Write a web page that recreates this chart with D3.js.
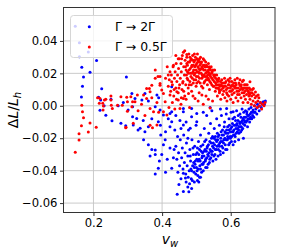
<!DOCTYPE html>
<html><head><meta charset="utf-8">
<script src="https://cdn.jsdelivr.net/npm/d3@7"></script>
<style>html,body{margin:0;padding:0;background:#fff;} svg{display:block;font-family:"DejaVu Sans",sans-serif;}</style>
</head><body><svg id="c" width="283" height="252"></svg>
<script>
const xTicks = [0.2, 0.4, 0.6];
const yTicks = [-0.06, -0.04, -0.02, 0.00, 0.02, 0.04];
const seriesLabels = ["Γ → 2Γ", "Γ → 0.5Γ"];
const seriesColors = ["#0000ff", "#ff0000"];

// Γ → 2Γ (blue)
const blue2G = [
[0.147,0.049],[0.159,0.0388],[0.185,0.0332],[0.159,0.0302],[0.209,0.0279],[0.166,0.0238],[0.190,0.0207],[0.171,0.0177],[0.168,0.0121],[0.165,0.0054],
[0.296,0.0177],[0.224,0.0105],[0.215,0.0052],[0.251,0.0041],[0.231,0.000],[0.219,-0.0028],[0.236,-0.0059],[0.254,-0.0092],[0.272,0.000],[0.287,0.0021],[0.221,0.0035],[0.280,-0.0108],[0.294,-0.0123],[0.314,-0.0068],[0.301,-0.0026],[0.314,-0.0006],
[0.312,0.0076],[0.321,0.0045],[0.341,0.0035],[0.350,0.0076],[0.385,0.0066],[0.390,0.0050],[0.428,0.0117],[0.423,-0.0047],[0.404,-0.0057],[0.389,-0.0098],[0.428,-0.0098],[0.462,-0.0037],[0.486,-0.0068],[0.501,-0.0047],[0.501,-0.0098],[0.462,-0.0119],[0.326,-0.0078],[0.316,-0.0119],[0.336,-0.0139],[0.360,-0.0129],[0.423,-0.0130],[0.482,-0.0139],
[0.380,-0.0006],[0.394,-0.0026],[0.428,-0.0037],[0.462,-0.0016],[0.486,-0.0016],[0.540,-0.0010],[0.520,-0.0040],
[0.330,-0.0150],[0.350,-0.0160],[0.346,-0.0210],[0.360,-0.0240],[0.370,-0.0270],[0.365,-0.0310],[0.380,-0.0273],[0.389,-0.0385],[0.399,-0.0300],[0.404,-0.0240],[0.409,-0.0210],[0.423,-0.0260],[0.433,-0.0320],[0.428,-0.0385],[0.462,-0.0416],[0.380,-0.0420],
[0.444,-0.0545],[0.462,-0.0529],[0.449,-0.0486],[0.470,-0.0470],[0.475,-0.0500],[0.468,-0.0445],
[0.440,-0.025],[0.443,-0.033],[0.446,-0.041],[0.448,-0.029],[0.451,-0.037],[0.453,-0.021],[0.455,-0.045],[0.457,-0.032],[0.459,-0.026],[0.461,-0.039],[0.463,-0.018],[0.465,-0.035],[0.467,-0.029],[0.469,-0.042],[0.471,-0.023],[0.473,-0.037],[0.475,-0.031],[0.477,-0.015],[0.479,-0.040],[0.481,-0.027],[0.483,-0.034],[0.485,-0.045],[0.487,-0.021],[0.489,-0.037],[0.491,-0.030],[0.493,-0.041],[0.495,-0.025],[0.497,-0.034],[0.499,-0.012],[0.500,-0.038],[0.502,-0.029],[0.504,-0.043],[0.506,-0.022],[0.508,-0.033],[0.510,-0.037],[0.512,-0.018],[0.514,-0.028],[0.515,-0.041],[0.517,-0.031],[0.519,-0.024],[0.521,-0.035],[0.523,-0.014],[0.525,-0.027],[0.527,-0.038],[0.528,-0.021],[0.530,-0.032],[0.532,-0.025],[0.534,-0.036],[0.536,-0.017],[0.537,-0.029],[0.539,-0.033],[0.541,-0.011],[0.543,-0.023],[0.545,-0.030],[0.547,-0.019],[0.548,-0.034],[0.550,-0.026],[0.552,-0.014],[0.554,-0.030],[0.556,-0.021],[0.558,-0.027],[0.559,-0.008],[0.561,-0.017],[0.563,-0.031],[0.565,-0.024],[0.567,-0.012],[0.569,-0.028],[0.571,-0.020],[0.573,-0.006],[0.574,-0.025],[0.576,-0.015],[0.578,-0.029],[0.580,-0.021],[0.582,-0.010],[0.584,-0.024],[0.586,-0.017],[0.587,-0.005],[0.589,-0.027],[0.591,-0.013],[0.593,-0.020],[0.595,-0.008],[0.597,-0.023],[0.599,-0.016],[0.601,-0.004],[0.603,-0.019],[0.605,-0.011],[0.607,-0.024],[0.609,-0.015],[0.611,-0.007],[0.613,-0.019],[0.615,-0.012],[0.617,-0.003],[0.619,-0.016],[0.621,-0.009],[0.623,-0.021],[0.625,-0.013],[0.627,-0.005],[0.629,-0.016],[0.631,-0.010],[0.633,-0.002],[0.635,-0.014],[0.637,-0.020],[0.639,-0.007],[0.641,-0.012],[0.643,-0.003],[0.645,-0.010],[0.647,-0.005],[0.649,-0.013],[0.651,-0.008],[0.653,-0.002],[0.655,-0.010],[0.657,-0.005],[0.659,-0.001],[0.661,-0.008],[0.663,-0.004],[0.665,-0.0026],[0.667,-0.007],[0.669,0.000],[0.671,-0.004],[0.673,-0.002],[0.676,-0.005],[0.678,0.001],[0.680,-0.0006],[0.683,-0.003],[0.686,0.002],[0.689,-0.001],[0.692,0.001],[0.695,0.0025],[0.698,0.001],[0.701,0.003],
[0.496,-0.036],[0.498,-0.042],[0.501,-0.033],[0.503,-0.026],[0.505,-0.039],[0.507,-0.030],[0.509,-0.044],[0.511,-0.034],[0.513,-0.025],[0.516,-0.036],[0.518,-0.029],[0.520,-0.040],[0.522,-0.031],[0.524,-0.022],[0.526,-0.034],[0.529,-0.028],[0.531,-0.038],[0.533,-0.030],[0.535,-0.024],[0.538,-0.035],[0.540,-0.027],[0.542,-0.032],[0.544,-0.020],[0.546,-0.028],[0.549,-0.023],[0.551,-0.031],[0.553,-0.024],[0.555,-0.019],[0.557,-0.033],[0.560,-0.025],[0.562,-0.021],[0.564,-0.027],[0.566,-0.018],[0.568,-0.023],[0.570,-0.030],[0.572,-0.016],[0.575,-0.022],[0.577,-0.026],[0.579,-0.018],[0.581,-0.013],[0.583,-0.020],[0.585,-0.027],[0.588,-0.015],[0.590,-0.021],[0.592,-0.017],[0.594,-0.024],[0.596,-0.012],[0.598,-0.019],[0.600,-0.014],[0.602,-0.022],[0.604,-0.016],[0.606,-0.008],[0.608,-0.018],[0.610,-0.012],[0.612,-0.022],[0.614,-0.009],[0.616,-0.017],[0.618,-0.011],[0.620,-0.014],[0.622,-0.006],[0.624,-0.017],[0.626,-0.010],[0.628,-0.013],[0.630,-0.007],[0.632,-0.015],[0.634,-0.009],[0.636,-0.011],[0.638,-0.004],[0.640,-0.009],[0.644,-0.007],[0.648,-0.009],[0.652,-0.006],[0.656,-0.008],[0.660,-0.004],[0.664,-0.006],
[0.476,-0.044],[0.480,-0.048],[0.484,-0.039],[0.488,-0.046],[0.492,-0.035],[0.494,-0.047],[0.503,-0.046],[0.512,-0.044],[0.486,-0.051],[0.478,-0.053],[0.507,-0.047],
[0.530,-0.006],[0.545,-0.003],[0.570,-0.002],[0.588,-0.0016],[0.607,-0.0037],[0.647,-0.0037],[0.380,-0.0300],[0.396,-0.0180],[0.415,-0.0330],[0.437,-0.0150],[0.452,-0.0090],
[0.482,-0.031],[0.486,-0.040],[0.490,-0.026],[0.494,-0.038],[0.498,-0.030],[0.502,-0.040],[0.505,-0.034],[0.509,-0.027],[0.512,-0.039],[0.516,-0.032],[0.519,-0.036],[0.523,-0.028],[0.527,-0.033],[0.531,-0.026],[0.535,-0.031],[0.539,-0.022],[0.543,-0.028],[0.547,-0.025],[0.551,-0.020],[0.555,-0.027],[0.559,-0.022],[0.563,-0.019],[0.567,-0.025],[0.571,-0.022],[0.575,-0.018],[0.579,-0.023],[0.583,-0.016],[0.587,-0.021],[0.591,-0.019],[0.595,-0.015],[0.599,-0.020],[0.603,-0.013],[0.607,-0.016],[0.611,-0.018],[0.615,-0.014],[0.619,-0.012],[0.623,-0.015],[0.627,-0.011],[0.631,-0.013],[0.636,-0.008],[0.642,-0.010],[0.650,-0.006],[0.658,-0.007],[0.668,-0.004],
[0.395,-0.012],[0.410,-0.016],[0.418,-0.008],[0.440,-0.006],[0.445,-0.019],[0.435,-0.027],[0.392,-0.034],[0.410,-0.041],[0.455,-0.014],[0.470,-0.010],[0.475,-0.020],[0.345,-0.009],[0.370,-0.008],[0.360,0.003]
];

// Γ → 0.5Γ (red)
const red05G = [
[0.147,-0.0287],[0.158,-0.0211],[0.158,-0.0172],[0.165,-0.0123],[0.166,0.0004],[0.168,-0.0037],[0.171,-0.0074],[0.185,-0.0162],[0.190,-0.0106],[0.208,-0.0133],
[0.212,0.0049],[0.219,0.0045],[0.217,0.0015],[0.227,0.0015],[0.232,0.0035],[0.236,0.0041],[0.229,-0.0002],[0.228,-0.0026],[0.251,0.0060],[0.251,0.0035],[0.252,0.0004],[0.255,-0.0016],[0.270,0.0004],[0.280,0.0055],[0.297,0.0052],[0.299,0.0025],[0.314,0.0025],[0.309,0.0055],[0.284,0.0004],[0.299,-0.0033],[0.294,-0.0135],[0.295,-0.0133],[0.316,-0.0108],
[0.312,-0.0006],[0.321,0.0025],[0.328,0.0066],[0.346,0.0066],[0.355,0.0045],[0.363,0.0107],[0.365,-0.0016],[0.375,-0.0037],[0.394,0.0127],[0.399,0.0097],[0.404,0.0076],[0.409,0.0025],[0.404,-0.0037],[0.414,-0.0057],[0.423,0.0066],[0.443,0.0086],[0.447,0.0035],[0.462,0.0045],[0.452,-0.0016],[0.477,0.0076],[0.496,0.0045],[0.516,0.0066],
[0.380,0.022],[0.355,0.0107],[0.370,0.0127],[0.365,0.0086],[0.394,0.0138],[0.428,0.0148],[0.433,0.025],[0.423,0.021],[0.447,0.029],[0.410,0.017],[0.388,0.018],[0.415,0.024],[0.440,0.031],[0.380,0.0169],[0.394,0.018],[0.418,0.019],
[0.430,0.002],[0.437,-0.002],[0.455,0.001],[0.470,0.004],[0.480,-0.001],[0.490,0.006],[0.505,0.003],[0.520,0.001],[0.535,0.004],[0.540,-0.0014],[0.385,0.002],[0.390,-0.004],[0.420,-0.001],[0.370,0.005],[0.340,0.001],[0.330,-0.003],[0.350,-0.006],[0.365,-0.012],[0.372,-0.0135],[0.385,-0.0118],
[0.418,0.012],[0.421,0.016],[0.425,0.009],[0.427,0.019],[0.430,0.013],[0.432,0.024],[0.434,0.006],[0.436,0.017],[0.438,0.021],[0.440,0.011],[0.441,0.026],[0.443,0.015],[0.445,0.019],[0.447,0.008],[0.448,0.023],[0.450,0.029],[0.451,0.013],[0.453,0.017],[0.455,0.026],[0.456,0.021],[0.458,0.010],[0.459,0.031],[0.461,0.015],[0.462,0.033],[0.463,0.024],[0.465,0.019],[0.466,0.006],[0.467,0.028],[0.469,0.013],[0.470,0.022],[0.472,0.030],[0.473,0.017],[0.474,0.025],[0.476,0.011],[0.477,0.020],[0.478,0.032],[0.480,0.027],[0.481,0.015],[0.482,0.023],[0.484,0.018],[0.485,0.029],[0.486,0.009],[0.487,0.025],[0.489,0.031],[0.490,0.021],[0.491,0.014],[0.493,0.027],[0.494,0.019],[0.495,0.024],[0.497,0.030],[0.498,0.016],[0.499,0.012],[0.501,0.026],[0.502,0.021],[0.503,0.032],[0.505,0.018],[0.506,0.028],[0.507,0.023],[0.508,0.008],[0.510,0.025],[0.511,0.014],[0.512,0.030],[0.514,0.020],[0.515,0.027],[0.516,0.017],[0.518,0.023],[0.519,0.011],[0.520,0.029],[0.522,0.019],[0.523,0.025],[0.524,0.015],[0.526,0.022],[0.527,0.027],[0.528,0.006],[0.530,0.018],[0.531,0.024],[0.532,0.013],[0.534,0.021],[0.535,0.026],[0.536,0.016],[0.538,0.010],[0.539,0.023],[0.540,0.019],[0.542,0.014],[0.543,0.024],[0.545,0.017],[0.546,0.021],[0.547,0.003],[0.549,0.012],[0.550,0.019],[0.552,0.015],[0.553,0.022],[0.555,0.009],[0.556,0.017],[0.558,0.013],[0.559,0.019],[0.561,0.006],[0.562,0.015],[0.564,0.011],[0.565,0.017],[0.567,0.008],[0.568,0.013],[0.570,0.015],[0.571,0.004],[0.573,0.010],[0.574,0.016],[0.576,0.012],[0.577,0.007],[0.579,0.014],[0.580,0.009],[0.582,0.017],[0.583,0.005],[0.585,0.012],[0.586,0.015],[0.588,0.008],[0.589,0.003],[0.591,0.011],[0.592,0.016],[0.594,0.006],[0.595,0.013],[0.597,0.009],[0.598,0.017],[0.600,0.004],[0.601,0.012],[0.603,0.015],[0.604,0.007],[0.606,0.010],[0.607,0.002],[0.609,0.014],[0.610,0.008],[0.612,0.016],[0.613,0.011],[0.615,0.005],[0.616,0.013],[0.618,0.009],[0.619,0.017],[0.621,0.003],[0.622,0.011],[0.624,0.014],[0.625,0.007],[0.627,0.016],[0.628,0.010],[0.630,0.005],[0.631,0.013],[0.633,0.008],[0.634,0.015],[0.636,0.002],[0.637,0.011],[0.639,0.006],[0.640,0.013],[0.642,0.009],[0.643,0.004],[0.645,0.011],[0.646,0.007],[0.648,0.013],[0.650,0.002],[0.651,0.009],[0.653,0.006],[0.654,0.011],[0.656,0.004],[0.658,0.008],[0.660,0.001],[0.661,0.006],[0.663,0.010],[0.665,0.003],[0.667,0.007],[0.669,0.000],[0.671,0.005],[0.673,0.002],[0.675,0.006],[0.677,-0.001],[0.679,0.003],[0.682,0.005],[0.684,0.000],[0.687,0.002],[0.690,-0.002],[0.693,0.001],[0.697,0.000],[0.700,0.002],
[0.468,0.024],[0.471,0.019],[0.474,0.021],[0.476,0.027],[0.479,0.013],[0.481,0.030],[0.483,0.020],[0.486,0.024],[0.488,0.017],[0.490,0.028],[0.492,0.022],[0.494,0.032],[0.496,0.020],[0.498,0.025],[0.500,0.018],[0.502,0.029],[0.504,0.024],[0.506,0.015],[0.508,0.020],[0.509,0.029],[0.511,0.022],[0.513,0.026],[0.515,0.012],[0.517,0.024],[0.519,0.018],[0.521,0.022],[0.523,0.028],[0.525,0.018],[0.527,0.020],[0.529,0.025],[0.531,0.016],[0.533,0.019],[0.535,0.022],[0.537,0.020],[0.539,0.015],[0.541,0.022],[0.544,0.020],[0.548,0.016],[0.551,0.012],[0.554,0.019],[0.557,0.011],[0.560,0.016],[0.563,0.013],[0.566,0.010],[0.569,0.012],[0.575,0.014],[0.581,0.012],[0.587,0.010],[0.593,0.013],[0.599,0.011],[0.605,0.013],[0.611,0.012],[0.617,0.011],[0.623,0.009],[0.629,0.012],[0.635,0.010],[0.641,0.011],[0.647,0.010],[0.652,0.008],[0.657,0.010],
[0.637,0.0158],[0.656,0.0148],[0.666,0.0107],[0.680,0.0066],[0.672,0.0085],[0.457,0.029],[0.472,0.0316],[0.466,0.034],
[0.472,0.026],[0.475,0.016],[0.479,0.022],[0.483,0.028],[0.485,0.013],[0.488,0.020],[0.491,0.025],[0.493,0.016],[0.496,0.028],[0.499,0.022],[0.501,0.014],[0.504,0.027],[0.506,0.021],[0.509,0.017],[0.511,0.027],[0.514,0.023],[0.517,0.019],[0.520,0.025],[0.522,0.014],[0.525,0.024],[0.528,0.016],[0.531,0.021],[0.534,0.017],[0.537,0.024],[0.541,0.018],[0.545,0.013],[0.548,0.022],[0.552,0.018],[0.556,0.014],[0.560,0.011],[0.564,0.016],[0.568,0.009],[0.572,0.013],[0.578,0.011],[0.584,0.014],[0.590,0.007],[0.596,0.015],[0.602,0.009],[0.608,0.012],[0.614,0.014],[0.620,0.007],[0.626,0.013],[0.632,0.011],[0.638,0.008],[0.644,0.013],[0.650,0.011],[0.655,0.007],[0.662,0.008],
[0.435,0.010],[0.442,0.004],[0.449,0.011],[0.456,0.005],[0.463,0.009],[0.460,0.014]
];

const plot = {left: 63.5, right: 275, top: 7.5, bottom: 212.5};
const svg = d3.select("#c");

const x = d3.scaleLinear().domain([0.1127, 0.729]).range([plot.left, plot.right]);
const y = d3.scaleLinear().domain([-0.0658, 0.0606]).range([plot.bottom, plot.top]);

// grid
const grid = svg.append("g");
grid.selectAll("line.gx").data(xTicks).enter().append("line")
  .attr("x1", d => x(d)).attr("x2", d => x(d)).attr("y1", plot.top).attr("y2", plot.bottom)
  .attr("stroke", "#c4c4c4").attr("stroke-width", 0.9);
grid.selectAll("line.gy").data(yTicks).enter().append("line")
  .attr("y1", d => y(d)).attr("y2", d => y(d)).attr("x1", plot.left).attr("x2", plot.right)
  .attr("stroke", "#c4c4c4").attr("stroke-width", 0.9);

// points
const series = [blue2G, red05G];
series.forEach((pts, i) => {
  svg.append("g").selectAll("circle").data(pts).enter().append("circle")
    .attr("cx", d => x(d[0])).attr("cy", d => y(d[1])).attr("r", 1.5)
    .attr("fill", seriesColors[i]);
});

// frame
svg.append("rect").attr("x", plot.left).attr("y", plot.top)
  .attr("width", plot.right - plot.left).attr("height", plot.bottom - plot.top)
  .attr("fill", "none").attr("stroke", "#333").attr("stroke-width", 1);

const fmt = d => (d < 0 ? "\u2212" : "") + d3.format(".1f")(Math.abs(d));
const fmtY = d => (d < 0 ? "\u2212" : "") + d3.format(".2f")(Math.abs(d));

const xAxis = svg.append("g").attr("transform", `translate(0,${plot.bottom})`)
  .call(d3.axisBottom(x).tickValues(xTicks).tickFormat(fmt).tickSize(3.5).tickPadding(3));
const yAxis = svg.append("g").attr("transform", `translate(${plot.left},0)`)
  .call(d3.axisLeft(y).tickValues(yTicks).tickFormat(fmtY).tickSize(3.5).tickPadding(2.5));
[xAxis, yAxis].forEach(a => {
  a.select(".domain").remove();
  a.selectAll(".tick line").attr("stroke", "#333");
  a.selectAll(".tick text").attr("font-family", "DejaVu Sans").attr("font-size", 11.6).attr("fill", "#000");
});

// axis labels
const xl = svg.append("text").attr("x", 170).attr("y", 244).attr("text-anchor", "middle")
  .attr("font-size", 14).attr("fill", "#000");
xl.append("tspan").attr("font-style", "italic").text("v");
xl.append("tspan").attr("font-style", "italic").attr("font-size", 10).attr("dy", 2.5).text("w");

const yl = svg.append("text").attr("transform", "translate(18,110) rotate(-90)")
  .attr("text-anchor", "middle").attr("font-size", 14).attr("fill", "#000");
yl.append("tspan").text("Δ");
yl.append("tspan").attr("font-style", "italic").text("L");
yl.append("tspan").text("/");
yl.append("tspan").attr("font-style", "italic").text("L");
yl.append("tspan").attr("font-style", "italic").attr("font-size", 10).attr("dy", 2.5).text("h");

// legend
const lg = svg.append("g");
lg.append("rect").attr("x", 70.5).attr("y", 15.5).attr("width", 102).attr("height", 42).attr("rx", 3)
  .attr("fill", "#fff").attr("fill-opacity", 0.8).attr("stroke", "#d6d6d6").attr("stroke-width", 1);
seriesLabels.forEach((lab, i) => {
  const cy = 26.7 + i * 20.3;
  lg.append("circle").attr("cx", 89.3).attr("cy", cy).attr("r", 1.5).attr("fill", seriesColors[i]);
  lg.append("text").attr("x", 115).attr("y", cy).attr("dy", "0.36em")
    .attr("font-size", 12.4).attr("fill", "#000").text(lab);
});
</script>
</body></html>
